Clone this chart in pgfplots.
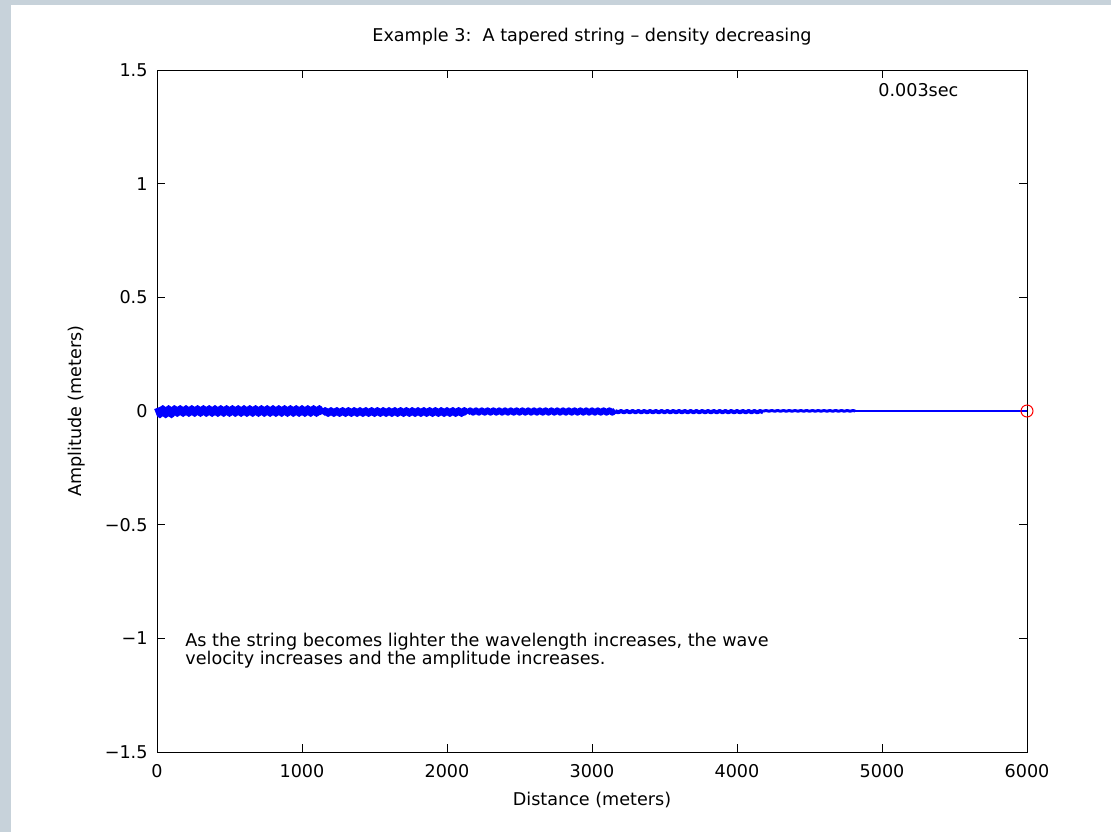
\documentclass[border=0pt]{standalone}
\usepackage{fontspec}
\setmainfont{DejaVu Sans}
\usepackage{pgfplots}
\pgfplotsset{compat=1.18}
\definecolor{framegray}{RGB}{199,210,218}
\definecolor{mlblue}{RGB}{0,0,255}

\begin{document}
\fontsize{8.8}{9}\selectfont
\begin{tikzpicture}
% figure background: gray band on the left and top, white elsewhere
\fill[framegray] (0,0) rectangle (555.5pt,416pt);
\fill[white] (5.5pt,0) rectangle (555.5pt,413.5pt);
\begin{axis}[
  at={(78.5pt,40pt)}, anchor=south west,
  scale only axis, width=435pt, height=341pt,
  xmin=0, xmax=6000, ymin=-1.5, ymax=1.5,
  xtick={0,1000,2000,3000,4000,5000,6000},
  ytick={-1.5,-1,-0.5,0,0.5,1,1.5},
  yticklabels={−1.5,−1,−0.5,0,0.5,1,1.5},
  scaled x ticks=false,
  xticklabel style={yshift=-3pt, /pgf/number format/1000 sep={}},
  yticklabel style={xshift=-1.6pt},
  /pgf/number format/assume math mode=true,
  tick align=inside, major tick length=4pt,
  tick style={black, line width=0.5pt},
  axis line style={black, line width=0.5pt},
  clip=false,
  title={Example 3:\ \ A tapered string – density decreasing},
  title style={at={(axis description cs:0.5,1.032)}, anchor=center},
  xlabel={Distance (meters)},
  xlabel style={at={(axis description cs:0.5,-0.0704)}, anchor=center},
  ylabel={Amplitude (meters)},
  ylabel style={at={(axis description cs:-0.092,0.5)}, anchor=center},
]
% the travelling wave along the tapered string, one piece per section
\addplot[mlblue, line width=3pt, line join=round] coordinates {
(0,0.0132)(20,-0.019)(40,0.0132)(60,-0.019)(80,0.0132)(100,-0.019)(120,0.0132)(140,-0.0132)(160,0.0132)(180,-0.0132)
(200,0.0132)(220,-0.0132)(240,0.0132)(260,-0.0132)(280,0.0132)(300,-0.0132)(320,0.0132)(340,-0.0132)(360,0.0132)(380,-0.0132)
(400,0.0132)(420,-0.0132)(440,0.0132)(460,-0.0132)(480,0.0132)(500,-0.0132)(520,0.0132)(540,-0.0132)(560,0.0132)(580,-0.0132)
(600,0.0132)(620,-0.0132)(640,0.0132)(660,-0.0132)(680,0.0132)(700,-0.0132)(720,0.0132)(740,-0.0132)(760,0.0132)(780,-0.0132)
(800,0.0132)(820,-0.0132)(840,0.0132)(860,-0.0132)(880,0.0132)(900,-0.0132)(920,0.0132)(940,-0.0132)(960,0.0132)(980,-0.0132)
(1000,0.0132)(1020,-0.0132)(1040,0.0132)(1060,-0.0132)(1080,0.0132)(1100,-0.0132)(1120,0.0132)(1140,-0.0132)
};
\addplot[mlblue, line width=3pt, line join=round] coordinates {
(1140,-0.0132)(1160,0.0044)(1180,-0.0132)
(1200,0.0044)(1220,-0.0132)(1240,0.0044)(1260,-0.0132)(1280,0.0044)(1300,-0.0132)(1320,0.0044)(1340,-0.0132)(1360,0.0044)(1380,-0.0132)
(1400,0.0044)(1420,-0.0132)(1440,0.0044)(1460,-0.0132)(1480,0.0044)(1500,-0.0132)(1520,0.0044)(1540,-0.0132)(1560,0.0044)(1580,-0.0132)
(1600,0.0044)(1620,-0.0132)(1640,0.0044)(1660,-0.0132)(1680,0.0044)(1700,-0.0132)(1720,0.0044)(1740,-0.0132)(1760,0.0044)(1780,-0.0132)
(1800,0.0044)(1820,-0.0132)(1840,0.0044)(1860,-0.0132)(1880,0.0044)(1900,-0.0132)(1920,0.0044)(1940,-0.0132)(1960,0.0044)(1980,-0.0132)
(2000,0.0044)(2020,-0.0132)(2040,0.0044)(2060,-0.0132)(2080,0.0044)(2100,-0.0132)(2120,0.0044)(2140,-0.0132)
};
\addplot[mlblue, line width=3pt, line join=round] coordinates {
(2140,-0.0075)(2160,0.003)(2180,-0.0075)
(2200,0.003)(2220,-0.0075)(2240,0.003)(2260,-0.0075)(2280,0.003)(2300,-0.0075)(2320,0.003)(2340,-0.0075)(2360,0.003)(2380,-0.0075)
(2400,0.003)(2420,-0.0075)(2440,0.003)(2460,-0.0075)(2480,0.003)(2500,-0.0075)(2520,0.003)(2540,-0.0075)(2560,0.003)(2580,-0.0075)
(2600,0.003)(2620,-0.0075)(2640,0.003)(2660,-0.0075)(2680,0.003)(2700,-0.0075)(2720,0.003)(2740,-0.0075)(2760,0.003)(2780,-0.0075)
(2800,0.003)(2820,-0.0075)(2840,0.003)(2860,-0.0075)(2880,0.003)(2900,-0.0075)(2920,0.003)(2940,-0.0075)(2960,0.003)(2980,-0.0075)
(3000,0.003)(3020,-0.0075)(3040,0.003)(3060,-0.0075)(3080,0.003)(3100,-0.0075)(3120,0.003)(3140,-0.0075)(3160,0.003)
};
\addplot[mlblue, line width=2pt, line join=round] coordinates {
(3160,0)(3180,-0.0057)
(3200,0)(3220,-0.0057)(3240,0)(3260,-0.0057)(3280,0)(3300,-0.0057)(3320,0)(3340,-0.0057)(3360,0)(3380,-0.0057)
(3400,0)(3420,-0.0057)(3440,0)(3460,-0.0057)(3480,0)(3500,-0.0057)(3520,0)(3540,-0.0057)(3560,0)(3580,-0.0057)
(3600,0)(3620,-0.0057)(3640,0)(3660,-0.0057)(3680,0)(3700,-0.0057)(3720,0)(3740,-0.0057)(3760,0)(3780,-0.0057)
(3800,0)(3820,-0.0057)(3840,0)(3860,-0.0057)(3880,0)(3900,-0.0057)(3920,0)(3940,-0.0057)(3960,0)(3980,-0.0057)
(4000,0)(4020,-0.0057)(4040,0)(4060,-0.0057)(4080,0)(4100,-0.0057)(4120,0)(4140,-0.0057)(4160,0)(4180,-0.0057)
};
\addplot[mlblue, line width=1.5pt, line join=round] coordinates {
(4180,-0.001)(4200,0.0022)(4220,-0.001)(4240,0.0022)(4260,-0.001)(4280,0.0022)(4300,-0.001)(4320,0.0022)(4340,-0.001)(4360,0.0022)(4380,-0.001)
(4400,0.0022)(4420,-0.001)(4440,0.0022)(4460,-0.001)(4480,0.0022)(4500,-0.001)(4520,0.0022)(4540,-0.001)(4560,0.0022)(4580,-0.001)
(4600,0.0022)(4620,-0.001)(4640,0.0022)(4660,-0.001)(4680,0.0022)(4700,-0.001)(4720,0.0022)(4740,-0.001)(4760,0.0022)(4780,-0.001)
(4800,0.0022)(4815,0)
};
\addplot[mlblue, line width=0.7pt] coordinates {(4815,0)(6000,0)};
% end of the string
\addplot[only marks, mark=o, mark size=3pt, red, mark options={line width=0.5pt}] coordinates {(6000,0)};
\node[anchor=west, inner sep=0pt] at (axis cs:4972,1.41) {0.003sec};
\node[anchor=north west, inner sep=0pt, align=left] at (axis cs:193,-0.976)
  {As the string becomes lighter the wavelength increases, the wave\\velocity increases and the amplitude increases.};
\end{axis}
\end{tikzpicture}
\end{document}
